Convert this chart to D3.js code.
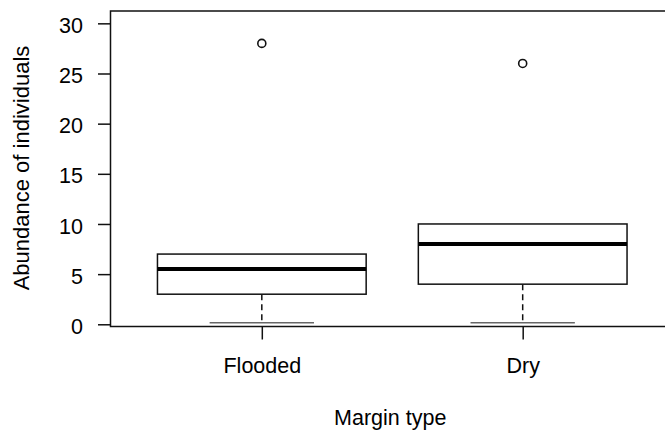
<!DOCTYPE html>
<html>
<head>
<meta charset="utf-8">
<script src="https://cdn.jsdelivr.net/npm/d3@7"></script>
<style>
  html, body { margin: 0; padding: 0; background: #fff; }
  svg { display: block; }
  text { font-family: "Liberation Sans", Arial, sans-serif; fill: #000; }
</style>
</head>
<body>
<svg id="chart" width="665" height="430"></svg>
<script>
// ---- data ----
const categories = ["Flooded", "Dry"];
const q1 = [3, 4];
const medians = [5.5, 8];
const q3 = [7, 10];
const whiskerLow = [0, 0];
const whiskerHigh = [7, 10];
const outliers = [[28], [26]];
const yTicks = [0, 5, 10, 15, 20, 25, 30];
const xTitle = "Margin type";
const yTitle = "Abundance of individuals";

// ---- layout ----
const svg = d3.select("#chart");
const pLeft = 110.5, pRight = 674, pTop = 11, pBottom = 326.5;
const fontSize = "21.5px";

const x = d3.scaleLinear().domain([0.42, 2.58]).range([pLeft, pRight]);
const y = d3.scaleLinear().domain([-0.22, 31.23]).range([pBottom, pTop]);

const boxHalf = 0.4, capHalf = 0.2;

// frame
svg.append("rect")
  .attr("x", pLeft).attr("y", pTop)
  .attr("width", pRight - pLeft).attr("height", pBottom - pTop)
  .attr("fill", "none").attr("stroke", "#111").attr("stroke-width", 1.5);

// y axis
const yAxis = d3.axisLeft(y).tickValues(yTicks).tickSize(12.5).tickPadding(15).tickFormat(d3.format("d"));
const gy = svg.append("g").attr("transform", `translate(${pLeft},0)`).call(yAxis);
gy.select(".domain").remove();
gy.selectAll(".tick line").attr("stroke", "#111").attr("stroke-width", 1.5);
gy.selectAll(".tick text").style("font-size", fontSize).attr("dy", "0.42em")
  .attr("font-family", "Liberation Sans, Arial, sans-serif").attr("fill", "#000");

// x axis
const xAxis = d3.axisBottom(x).tickValues([1, 2]).tickSize(13).tickPadding(18.5)
  .tickFormat((d) => categories[d - 1]);
const gx = svg.append("g").attr("transform", `translate(0,${pBottom})`).call(xAxis);
gx.select(".domain").remove();
gx.selectAll(".tick line").attr("stroke", "#111").attr("stroke-width", 1.5);
gx.selectAll(".tick text").style("font-size", fontSize)
  .attr("font-family", "Liberation Sans, Arial, sans-serif").attr("fill", "#000");

// titles
svg.append("text").attr("x", (pLeft + pRight) / 2 - 2).attr("y", 425)
  .attr("text-anchor", "middle").style("font-size", fontSize).text(xTitle);
svg.append("text")
  .attr("transform", `translate(29,168) rotate(-90)`)
  .attr("text-anchor", "middle").style("font-size", "22px").text(yTitle);

// boxes
categories.forEach((c, i) => {
  const cx = i + 1;
  const g = svg.append("g");
  g.append("line")
    .attr("x1", x(cx)).attr("x2", x(cx))
    .attr("y1", y(q1[i])).attr("y2", y(whiskerLow[i]))
    .attr("stroke", "#111").attr("stroke-width", 1.5).attr("stroke-dasharray", "6,4");
  if (whiskerHigh[i] > q3[i]) {
    g.append("line")
      .attr("x1", x(cx)).attr("x2", x(cx))
      .attr("y1", y(q3[i])).attr("y2", y(whiskerHigh[i]))
      .attr("stroke", "#111").attr("stroke-width", 1.5).attr("stroke-dasharray", "6,4");
  }
  g.append("line")
    .attr("x1", x(cx - capHalf)).attr("x2", x(cx + capHalf))
    .attr("y1", y(whiskerLow[i]) - 1.5).attr("y2", y(whiskerLow[i]) - 1.5)
    .attr("stroke", "#666").attr("stroke-width", 1.5);
  g.append("rect")
    .attr("x", x(cx - boxHalf)).attr("y", y(q3[i]))
    .attr("width", x(cx + boxHalf) - x(cx - boxHalf))
    .attr("height", y(q1[i]) - y(q3[i]))
    .attr("fill", "#fff").attr("stroke", "#111").attr("stroke-width", 1.5);
  g.append("line")
    .attr("x1", x(cx - boxHalf)).attr("x2", x(cx + boxHalf))
    .attr("y1", y(medians[i])).attr("y2", y(medians[i]))
    .attr("stroke", "#000").attr("stroke-width", 4);
  g.selectAll("circle").data(outliers[i]).join("circle")
    .attr("cx", x(cx)).attr("cy", (d) => y(d))
    .attr("r", 4).attr("fill", "none").attr("stroke", "#111").attr("stroke-width", 1.6);
});
</script>
</body>
</html>
